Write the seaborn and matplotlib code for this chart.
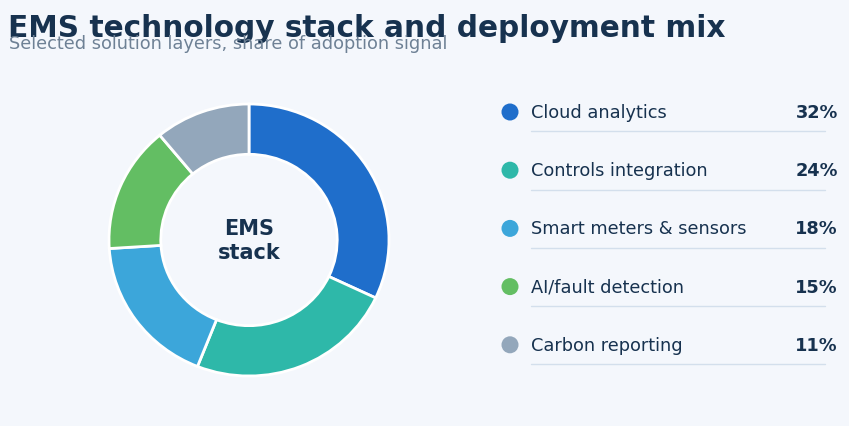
import matplotlib
matplotlib.use("Agg")
import matplotlib.pyplot as plt
import seaborn as sns
import numpy as np

# Data
layers = ["Cloud analytics", "Controls integration", "Smart meters & sensors",
          "AI/fault detection", "Carbon reporting"]
shares = [32, 24, 18, 15, 11]
colors = ["#1F6ECB", "#2EB8A9", "#3CA6DA", "#63BE63", "#93A7BB"]

title = "EMS technology stack and deployment mix"
subtitle = "Selected solution layers, share of adoption signal"
center_label = "EMS\nstack"

bg = "#F4F7FC"
navy = "#17324F"
grey = "#6E8195"

sns.set_theme(style="white")
plt.rcParams["font.family"] = ["DejaVu Sans"]

W, H = 849, 427
fig = plt.figure(figsize=(W / 100, H / 100), dpi=100, facecolor=bg)

# Donut
cx, cy, rx, ry = 249, 241, 140, 136
ax = fig.add_axes([(cx - rx) / W, (H - cy - ry) / H, 2 * rx / W, 2 * ry / H])
ax.set_facecolor(bg)
ax.pie(shares, colors=colors, startangle=90, counterclock=False, radius=1,
       wedgeprops=dict(width=0.37, edgecolor="white", linewidth=2))
ax.set_aspect("auto")
ax.set_xlim(-1, 1)
ax.set_ylim(-1, 1)
ax.axis("off")
ax.text(0, 0, center_label, ha="center", va="center", fontsize=15,
        fontweight="bold", color=navy, linespacing=1.25)

# Legend panel in pixel coordinates
lg = fig.add_axes([0, 0, 1, 1])
lg.set_xlim(0, W)
lg.set_ylim(H, 0)
lg.axis("off")
lg.patch.set_alpha(0)

y0, step = 113, 58.2
for i, (name, val, col) in enumerate(zip(layers, shares, colors)):
    y = y0 + i * step
    lg.scatter([510], [y], s=150, color=col, edgecolor="none", zorder=3)
    lg.text(531, y, name, ha="left", va="center", fontsize=12.75, color=navy)
    lg.text(838, y, f"{val}%", ha="right", va="center", fontsize=12.75,
            fontweight="bold", color=navy)
    lg.plot([531, 825], [y + 19.3, y + 19.3], color="#D3DFEC", lw=1)

fig.text(8 / W, 1 - 37 / H, title, ha="left", va="baseline", fontsize=21.3,
         fontweight="bold", color=navy)
fig.text(9 / W, 1 - 49 / H, subtitle, ha="left", va="baseline", fontsize=12.8,
         color=grey)

fig.savefig("out.png", dpi=100, facecolor=bg)
